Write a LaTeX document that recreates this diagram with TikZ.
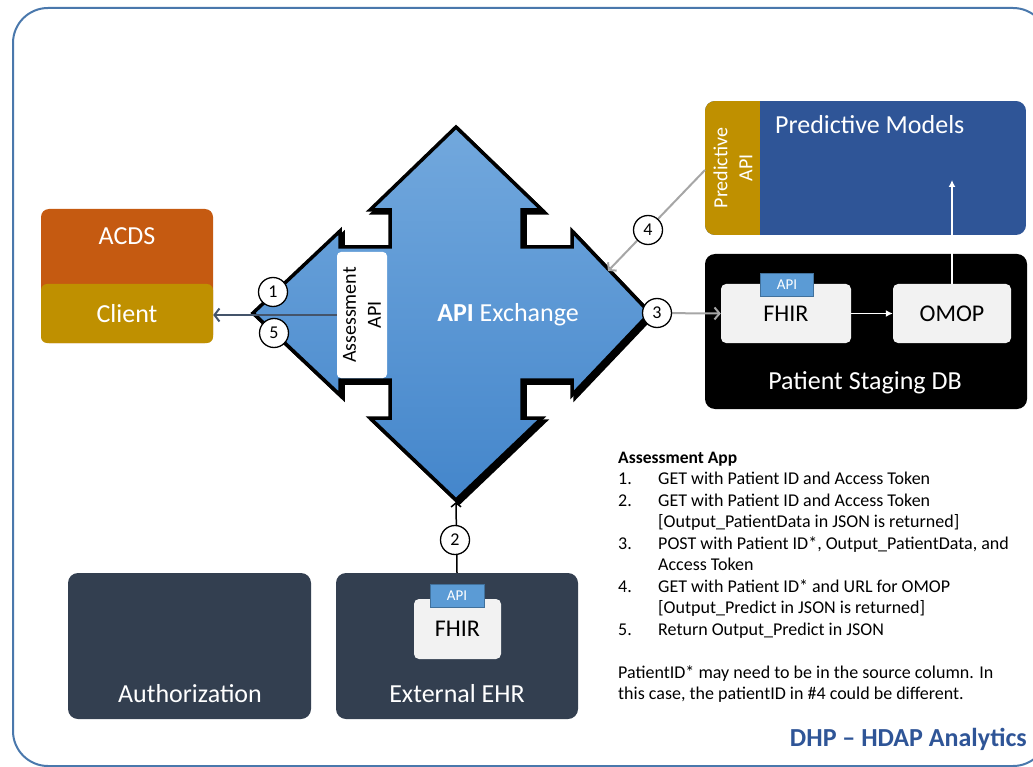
\documentclass[tikz,border=0pt]{standalone}
\usepackage{fontspec}
\setmainfont{Carlito}
\usetikzlibrary{arrows.meta,calc}
\definecolor{frameblue}{HTML}{4A78AC}
\definecolor{acdsorange}{HTML}{C55A11}
\definecolor{gold}{HTML}{BF9000}
\definecolor{predblue}{HTML}{2F5597}
\definecolor{slate}{HTML}{333F50}
\definecolor{boxgray}{HTML}{F2F2F2}
\definecolor{apiblue}{HTML}{5B9BD5}
\definecolor{apiborder}{HTML}{41719C}
\definecolor{arrowgray}{HTML}{A6A6A6}
\definecolor{clientline}{HTML}{44546A}
\definecolor{exTop}{HTML}{72A8DD}
\definecolor{exBot}{HTML}{4486CB}
\begin{document}
\begin{tikzpicture}[x=1pt,y=-1pt,
  lbl/.style={text=white, font=\fontsize{26}{30}\selectfont, inner sep=0pt},
  rotlbl/.style={rotate=90, align=center, inner sep=0pt, font=\fontsize{20}{25}\selectfont},
  numc/.style={circle, draw=black, fill=white, line width=1.3pt, minimum size=29pt, inner sep=0pt, font=\fontsize{18}{20}\selectfont},
  apitab/.style={fill=apiblue, draw=apiborder, line width=1pt, minimum width=53pt, minimum height=23pt, inner sep=0pt, text=white, font=\fontsize{15}{16}\selectfont},
  dbbox/.style={fill=boxgray, rounded corners=5pt, inner sep=0pt, font=\fontsize{24}{26}\selectfont},
  darkbox/.style={fill=slate, rounded corners=10pt, inner sep=0pt},
  grayarrow/.style={draw=arrowgray, line width=2pt, -{Straight Barb[length=5pt,width=12pt]}},
  whitearrow/.style={draw=white, line width=1.5pt, -{Latex[length=7pt,width=7pt]}},
  clientarrow/.style={draw=clientline, line width=2pt, -{Straight Barb[length=5pt,width=13pt]}},
  ehrarrow/.style={draw=black, line width=1.5pt, -{Straight Barb[length=4pt,width=10pt]}},
  listtext/.style={anchor=base west, inner sep=0pt, font=\fontsize{18}{20}\selectfont},
]
\path[use as bounding box] (0,0) rectangle (1033,767);
\clip (0,0) rectangle (1033,767);

% outer frame
\draw[frameblue, line width=2pt, rounded corners=35pt] (13,8) rectangle (1048,766);

% API Exchange shape: shadow then body
\draw[black, fill=black, line width=3.5pt, line join=miter, shift={(3,3)}]
  (456,127) -- (542,210) -- (522,210) -- (522,247) -- (572,247) -- (572,231) -- (650,313)
  -- (572,395) -- (572,380) -- (522,380) -- (522,418) -- (542,418) -- (456,500)
  -- (370,418) -- (390,418) -- (390,380) -- (340,380) -- (340,395) -- (253,313)
  -- (340,231) -- (340,247) -- (390,247) -- (390,210) -- (370,210) -- cycle;
\draw[black, line width=3.5pt, line join=miter, top color=exTop, bottom color=exBot]
  (456,127) -- (542,210) -- (522,210) -- (522,247) -- (572,247) -- (572,231) -- (650,313)
  -- (572,395) -- (572,380) -- (522,380) -- (522,418) -- (542,418) -- (456,500)
  -- (370,418) -- (390,418) -- (390,380) -- (340,380) -- (340,395) -- (253,313)
  -- (340,231) -- (340,247) -- (390,247) -- (390,210) -- (370,210) -- cycle;
\coordinate (tipR) at (650,313);
\coordinate (tipB) at (456,502);
\node[text=white, inner sep=0pt, font=\fontsize{26}{30}\selectfont] (exch) at (508,315) {\textbf{API} Exchange};

% Assessment API
\node[fill=white, rounded corners=4pt, minimum width=50pt, minimum height=126pt, inner sep=0pt] (aapi) at (362,315) {};
\node[rotlbl] (aapitxt) at (aapi) {Assessment\\API};

% ACDS / Client
\node[fill=acdsorange, rounded corners=8pt, minimum width=172pt, minimum height=134pt, inner sep=0pt] (acds) at (127,276) {};
\node[lbl] (acdstxt) at (127,236) {ACDS};
\node[fill=gold, rounded corners=6pt, minimum width=172pt, minimum height=59pt, inner sep=0pt, text=white, font=\fontsize{26}{30}\selectfont] (client) at (127,313.5) {Client};

% Predictive Models
\begin{scope}
  \clip[rounded corners=10pt] (705,101) rectangle (1026,235);
  \node[fill=predblue, minimum width=321pt, minimum height=134pt, inner sep=0pt] (pm) at (865.5,168) {};
  \node[fill=gold, minimum width=55pt, minimum height=134pt, inner sep=0pt] (predapi) at (732.5,168) {};
\end{scope}
\node[lbl, anchor=west] (pmtxt) at (775,125) {Predictive Models};
\node[rotlbl, text=white] (predapitxt) at (733,168) {Predictive\\API};
\coordinate (pa) at (705,170);
\coordinate (p4end) at (608,271);
\coordinate (pmin) at (952,180);

% Patient Staging DB
\node[fill=black, rounded corners=10pt, minimum width=322pt, minimum height=155pt, inner sep=0pt] (psdb) at (866,331.5) {};
\node[lbl] (psdbtxt) at (865,383) {Patient Staging DB};
\node[dbbox, minimum width=130pt, minimum height=59pt] (fhir) at (786,313.5) {FHIR};
\node[apitab] (fhirapi) at (787,285) {API};
\node[dbbox, minimum width=118pt, minimum height=59pt] (omop) at (952,313.5) {OMOP};

% Bottom boxes
\node[darkbox, minimum width=243pt, minimum height=146pt] (auth) at (189.5,646) {};
\node[lbl] (authtxt) at (190,694) {Authorization};
\node[darkbox, minimum width=242pt, minimum height=146pt] (ehr) at (457,646) {};
\node[lbl] (ehrtxt) at (457,694) {External EHR};
\node[dbbox, minimum width=87pt, minimum height=60pt] (ehrfhir) at (457.5,629) {FHIR};
\node[apitab, minimum width=54pt] (ehrapi) at (457,595.5) {API};

% connectors
\draw[clientarrow] (aapi.west) -- (aapi.west -| client.east);
\draw[grayarrow] (tipR) -- (fhir.west);
\draw[grayarrow] (pa) -- (p4end);
\draw[ehrarrow] (ehr.north) -- (tipB);
\draw[whitearrow] (fhir.east) -- (omop.west);
\draw[whitearrow] (omop.north) -- (pmin);

% step numbers
\node[numc] (n1) at (273,292) {1};
\node[numc] (n5) at (274,333) {5};
\node[numc] (n3) at (657,313) {3};
\node[numc] (n4) at (648,230) {4};
\node[numc] (n2) at (455,540) {2};

% Assessment App text
\node[listtext, font=\bfseries\fontsize{17.5}{20}\selectfont] (lh) at (618,463) {Assessment App};
\node[listtext] (l1n) at (618,484.5) {1.};
\node[listtext] (l1) at (658,484.5) {GET with Patient ID and Access Token};
\node[listtext] (l2n) at (618,506) {2.};
\node[listtext] (l2) at (658,506) {GET with Patient ID and Access Token};
\node[listtext] (l2b) at (658,527.5) {[Output\_PatientData in JSON is returned]};
\node[listtext] (l3n) at (618,549) {3.};
\node[listtext] (l3) at (658,549) {POST with Patient ID*, Output\_PatientData, and};
\node[listtext] (l3b) at (658,570.5) {Access Token};
\node[listtext] (l4n) at (618,592) {4.};
\node[listtext] (l4) at (658,592) {GET with Patient ID* and URL for OMOP};
\node[listtext] (l4b) at (658,613.5) {[Output\_Predict in JSON is returned]};
\node[listtext] (l5n) at (618,635) {5.};
\node[listtext] (l5) at (658,635) {Return Output\_Predict in JSON};
\node[listtext] (pn1) at (618,678) {PatientID* may need to be in the source column. In};
\node[listtext] (pn2) at (618,699.5) {this case, the patientID in \#4 could be different.};

\node[anchor=base east, inner sep=0pt, text=predblue, font=\bfseries\fontsize{26}{30}\selectfont] (dhp) at (1027,746) {DHP -- HDAP Analytics};
\end{tikzpicture}
\end{document}
